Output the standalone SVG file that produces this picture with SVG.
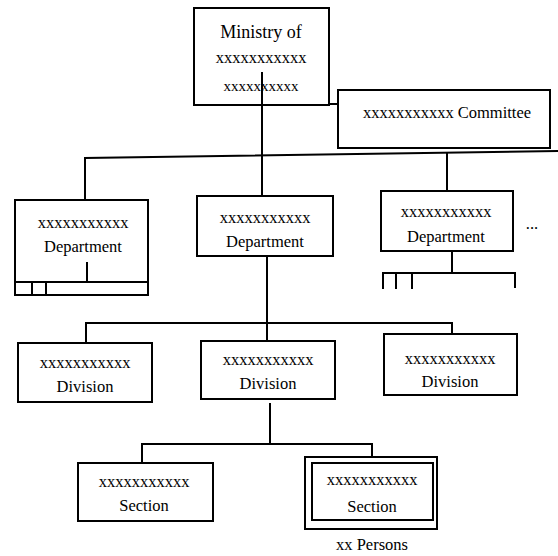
<svg xmlns="http://www.w3.org/2000/svg" width="558" height="556" viewBox="0 0 558 556">
<style>
.box{fill:#fff;stroke:#000;stroke-width:2}
.ln{fill:none;stroke:#000;stroke-width:2}
text{font-family:"Liberation Serif","Times New Roman",serif;font-size:16.5px;fill:#000;text-anchor:middle}
</style>
<rect width="558" height="556" fill="#fff"/>
<g id="connectors">
<path class="ln" d="M262 72 V196"/>
<path class="ln" d="M262 104 H338"/>
<path class="ln" d="M85 200 V158 L558 151"/>
<path class="ln" d="M447 152 V191"/>
<path class="ln" d="M267 256 V322"/>
<path class="ln" d="M86 343 V323 H452 V334"/>
<path class="ln" d="M267 322 V341"/>
<path class="ln" d="M452 251 V273"/>
<path class="ln" d="M383 289 V273 H515 V288 M396 273 V289 M412 273 V289"/>
<path class="ln" d="M270 403 V444"/>
<path class="ln" d="M142 463 V444 H372 V457"/>
</g>
<g id="ministry">
<rect class="box" x="194" y="8" width="135" height="97"/>
<text x="261" y="38" style="font-size:18px">Ministry of</text>
<text x="261" y="63">xxxxxxxxxxx</text>
<text x="261" y="91" style="font-size:15px">xxxxxxxxxx</text>
<path class="ln" d="M262 72 V105"/>
</g>
<g id="committee">
<rect class="box" x="338" y="90" width="212" height="58"/>
<text x="447" y="118">xxxxxxxxxxx Committee</text>
</g>
<g id="dept-left">
<rect class="box" x="15" y="200" width="133" height="95"/>
<text x="83" y="228">xxxxxxxxxxx</text>
<text x="83" y="252">Department</text>
<path class="ln" d="M15 282 H148 M32 282 V295 M46 282 V295 M87 262 V282"/>
</g>
<g id="dept-mid">
<rect class="box" x="197" y="196" width="136" height="60"/>
<text x="265" y="223">xxxxxxxxxxx</text>
<text x="265" y="247">Department</text>
</g>
<g id="dept-right">
<rect class="box" x="381" y="191" width="132" height="60"/>
<text x="446" y="217">xxxxxxxxxxx</text>
<text x="446" y="242">Department</text>
<text x="532" y="229">...</text>
</g>
<g id="div-left">
<rect class="box" x="18" y="343" width="134" height="59"/>
<text x="85" y="368">xxxxxxxxxxx</text>
<text x="85" y="392">Division</text>
</g>
<g id="div-mid">
<rect class="box" x="201" y="341" width="134" height="58"/>
<text x="268" y="365">xxxxxxxxxxx</text>
<text x="268" y="389">Division</text>
</g>
<g id="div-right">
<rect class="box" x="384" y="334" width="133" height="61"/>
<text x="450" y="364">xxxxxxxxxxx</text>
<text x="450" y="387">Division</text>
</g>
<g id="sec-left">
<rect class="box" x="78" y="463" width="135" height="58"/>
<text x="144" y="487">xxxxxxxxxxx</text>
<text x="144" y="511">Section</text>
</g>
<g id="sec-right">
<rect class="box" x="305" y="457" width="132" height="72"/>
<rect class="box" x="312" y="463" width="121" height="57"/>
<text x="372" y="485">xxxxxxxxxxx</text>
<text x="372" y="512">Section</text>
<text x="372" y="550">xx Persons</text>
</g>
</svg>
